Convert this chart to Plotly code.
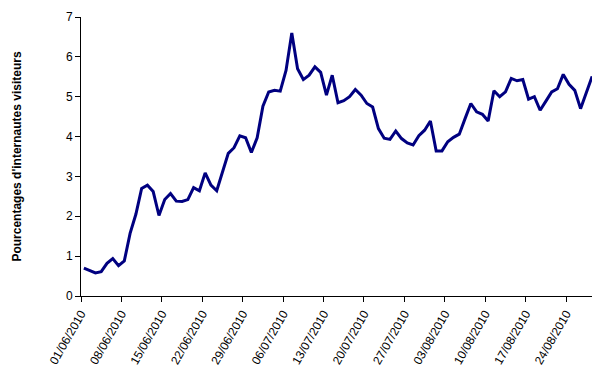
import plotly.graph_objects as go
import pandas as pd

start_date = "2010-06-01"
values = [
    0.70, 0.63, 0.58, 0.61, 0.82, 0.94, 0.76, 0.88, 1.57, 2.05,
    2.70, 2.78, 2.62, 2.02, 2.42, 2.57, 2.38, 2.37, 2.42, 2.72,
    2.64, 3.09, 2.78, 2.64, 3.12, 3.58, 3.72, 4.02, 3.97, 3.60,
    3.97, 4.76, 5.12, 5.16, 5.14, 5.66, 6.60, 5.70, 5.43, 5.54,
    5.75, 5.61, 5.04, 5.54, 4.85, 4.90, 5.00, 5.18, 5.04, 4.83,
    4.74, 4.20, 3.96, 3.93, 4.14, 3.95, 3.84, 3.79, 4.02, 4.16,
    4.39, 3.64, 3.64, 3.87, 3.98, 4.06, 4.45, 4.83, 4.62, 4.56,
    4.39, 5.15, 5.00, 5.12, 5.46, 5.40, 5.43, 4.94, 5.00, 4.66,
    4.89, 5.12, 5.20, 5.56, 5.31, 5.16, 4.70, 5.12, 5.51,
]
dates = pd.date_range(start_date, periods=len(values), freq="D")
tick_dates = pd.date_range(start_date, "2010-08-24", freq="7D")
tick_labels = [d.strftime("%d/%m/%Y") for d in tick_dates]
y_ticks = [0, 1, 2, 3, 4, 5, 6, 7]

font_family = "Arial, 'Liberation Sans', sans-serif"

fig = go.Figure()
fig.add_trace(go.Scatter(
    x=dates, y=values, mode="lines",
    line=dict(color="#000080", width=3),
    xperiod=86400000, xperiodalignment="middle",
    hoverinfo="skip",
))

# page body has an 8px margin, so the figure is drawn at (8, 8)
fig.update_layout(
    width=592, height=371,
    margin=dict(l=73, r=5, t=9, b=83),
    paper_bgcolor="white", plot_bgcolor="white",
    showlegend=False,
    font=dict(family=font_family, size=11, color="black"),
)
fig.update_xaxes(
    type="date",
    range=[start_date, "2010-08-29"],
    tickvals=list(tick_dates), ticktext=tick_labels,
    tickangle=-60,
    ticks="outside", ticklen=5, tickcolor="black", tickwidth=1,
    showline=True, linecolor="black", linewidth=1,
    showgrid=False, zeroline=False, automargin=False,
    tickfont=dict(size=12, family=font_family),
)
fig.update_yaxes(
    range=[0, 7],
    tickvals=y_ticks,
    ticks="outside", ticklen=5, tickcolor="black", tickwidth=1,
    showline=True, linecolor="black", linewidth=1,
    showgrid=False, zeroline=False, automargin=False,
    tickfont=dict(size=12, family=font_family),
    title=dict(text="<b>Pourcentages d'internautes visiteurs</b>",
               font=dict(size=12, family=font_family), standoff=41),
)

fig.write_html("out.html")
